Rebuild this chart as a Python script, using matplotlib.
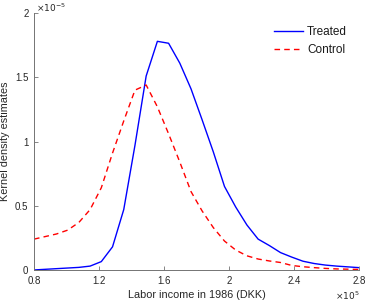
import matplotlib
matplotlib.use("Agg")
import matplotlib.pyplot as plt

plt.rcParams['font.family'] = ['Liberation Sans', 'DejaVu Sans']

# evaluation grid (labor income, x 1e5 DKK)
income = [0.800, 0.869, 0.938, 1.007, 1.076, 1.145, 1.214, 1.283, 1.352, 1.421,
          1.490, 1.559, 1.628, 1.697, 1.766, 1.834, 1.903, 1.972, 2.041, 2.110,
          2.179, 2.248, 2.317, 2.386, 2.455, 2.524, 2.593, 2.662, 2.731, 2.800]

# kernel density estimates (x 1e-5)
treated = [0.00, 0.005, 0.01, 0.015, 0.02, 0.03, 0.065, 0.18, 0.47, 0.97,
           1.51, 1.78, 1.765, 1.61, 1.41, 1.17, 0.92, 0.65, 0.49, 0.35,
           0.24, 0.19, 0.135, 0.10, 0.068, 0.05, 0.038, 0.03, 0.024, 0.018]
control = [0.24, 0.26, 0.28, 0.31, 0.37, 0.47, 0.64, 0.91, 1.16, 1.40,
           1.44, 1.27, 1.06, 0.84, 0.61, 0.46, 0.33, 0.225, 0.155, 0.11,
           0.085, 0.07, 0.058, 0.035, 0.025, 0.018, 0.012, 0.008, 0.006, 0.004]

xticks = [0.8, 1.2, 1.6, 2.0, 2.4, 2.8]
xticklabels = ['0.8', '1.2', '1.6', '2', '2.4', '2.8']
yticks = [0, 0.5, 1, 1.5, 2]
yticklabels = ['0', '0.5', '1', '1.5', '2']

fig = plt.figure(figsize=(3.66, 3.04), dpi=100)
ax = fig.add_axes([0.093, 0.112, 0.888, 0.845])

ax.plot(income, treated, color='#0000ff', lw=1.0, label='Treated')
ax.plot(income, control, color='#ff0000', lw=1.0, dashes=(4, 3), label='Control')

ax.set_xlim(0.8, 2.8)
ax.set_ylim(0, 2)
ax.set_xticks(xticks)
ax.set_xticklabels(xticklabels)
ax.set_yticks(yticks)
ax.set_yticklabels(yticklabels)

for s in ['top', 'right']:
    ax.spines[s].set_visible(False)
for s in ['left', 'bottom']:
    ax.spines[s].set_color('0.45')
    ax.spines[s].set_linewidth(0.7)
ax.tick_params(direction='in', length=3, width=0.6, color='0.45',
               labelsize=7, labelcolor='0.15', pad=4)

ax.set_xlabel('Labor income in 1986 (DKK)', fontsize=7.8, color='0.15', labelpad=3)
ax.set_ylabel('Kernel density estimates', fontsize=7.8, color='0.15', labelpad=4)

# exponent labels, placed in figure pixels
fig.text(36 / 366, 1 - 11.5 / 304, r'$\times10^{-5}$', fontsize=6.5,
         color='0.15', ha='left', va='baseline')
fig.text(360 / 366, 1 - 300 / 304, r'$\times10^{5}$', fontsize=6.5,
         color='0.15', ha='right', va='baseline')

leg = ax.legend(loc='upper right', bbox_to_anchor=(0.995, 0.99), frameon=False,
                fontsize=8.5, handlelength=2.5, handletextpad=0.3, labelspacing=0.5)
for t in leg.get_texts():
    t.set_color('0.1')

fig.savefig('out.png', dpi=100)
